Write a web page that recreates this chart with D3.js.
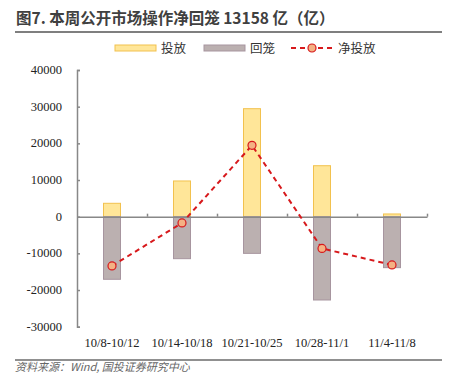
<!DOCTYPE html>
<html>
<head>
<meta charset="utf-8">
<script src="https://cdn.jsdelivr.net/npm/d3@7/dist/d3.min.js"></script>
<style>
  body { margin: 0; background: #fff; }
  svg { display: block; }
</style>
</head>
<body>
<div id="chart"></div>
<script>
// Data
var weeks = ["10/8-10/12", "10/14-10/18", "10/21-10/25", "10/28-11/1", "11/4-11/8"];
var touFang = [3650, 9740, 29450, 13900, 740];
var huiLong = [-17070, -11450, -10000, -22720, -13898];
var jingTouFang = [-13420, -1710, 19450, -8650, -13158];
var yTicks = [-30000, -20000, -10000, 0, 10000, 20000, 30000, 40000];

var width = 449;
var height = 384;
var plotLeft = 77, plotRight = 427;
var plotTop = 70, plotBottom = 326.7;

var svg = d3.select("#chart")
    .append("svg")
    .attr("width", width)
    .attr("height", height);

// Title and rules
svg.append("text")
    .attr("x", 16)
    .attr("y", 24)
    .attr("font-family", "Noto Sans CJK SC")
    .attr("font-weight", "bold")
    .attr("font-size", 15.5)
    .attr("fill", "#404040")
    .text("图7. 本周公开市场操作净回笼 13158 亿（亿）");

svg.append("line")
    .attr("x1", 15).attr("x2", 442)
    .attr("y1", 32).attr("y2", 32)
    .attr("stroke", "#555").attr("stroke-width", 1.5);

svg.append("line")
    .attr("x1", 15).attr("x2", 442)
    .attr("y1", 360).attr("y2", 360)
    .attr("stroke", "#222").attr("stroke-width", 1.2);

svg.append("text")
    .attr("x", 15)
    .attr("y", 371)
    .attr("font-family", "Noto Sans CJK SC")
    .attr("font-style", "italic")
    .attr("font-size", 11)
    .attr("fill", "#666")
    .text("资料来源：Wind, 国投证券研究中心");

// Scales
var xScale = d3.scaleBand()
    .domain(weeks)
    .range([plotLeft, plotRight]);

var yScale = d3.scaleLinear()
    .domain([-30000, 40000])
    .range([plotBottom, plotTop]);

var barW = 17;

// Bars
svg.selectAll("rect.tou")
    .data(weeks)
    .enter()
    .append("rect")
    .attr("class", "tou")
    .attr("x", function(d) { return xScale(d) + xScale.bandwidth() / 2 - barW / 2; })
    .attr("y", function(d, i) { return yScale(touFang[i]); })
    .attr("width", barW)
    .attr("height", function(d, i) { return yScale(0) - yScale(touFang[i]); })
    .attr("fill", "#FFE699")
    .attr("stroke", "#F2C14E")
    .attr("stroke-width", 1);

svg.selectAll("rect.hui")
    .data(weeks)
    .enter()
    .append("rect")
    .attr("class", "hui")
    .attr("x", function(d) { return xScale(d) + xScale.bandwidth() / 2 - barW / 2; })
    .attr("y", yScale(0))
    .attr("width", barW)
    .attr("height", function(d, i) { return yScale(huiLong[i]) - yScale(0); })
    .attr("fill", "#BBB0B0")
    .attr("stroke", "#A7959F")
    .attr("stroke-width", 1);

// Y axis
var yAxis = d3.axisRight(yScale)
    .tickValues(yTicks)
    .tickSize(3)
    .tickFormat("");

var yG = svg.append("g")
    .attr("transform", "translate(" + plotLeft + ",0)")
    .call(yAxis);
yG.selectAll("line, path").attr("stroke", "#888").attr("stroke-width", 1.5);

svg.selectAll("text.ylab")
    .data(yTicks)
    .enter()
    .append("text")
    .attr("class", "ylab")
    .attr("x", 62)
    .attr("y", function(d) { return yScale(d) + 4; })
    .attr("text-anchor", "end")
    .attr("font-family", "Liberation Serif")
    .attr("font-size", 12.5)
    .attr("fill", "#222")
    .text(function(d) { return d; });

// X axis at zero
var xAxis = d3.axisTop(d3.scaleLinear().domain([0, 5]).range([plotLeft, plotRight]))
    .tickValues([1, 2, 3, 4, 5])
    .tickSize(3)
    .tickSizeOuter(0)
    .tickFormat("");

var xG = svg.append("g")
    .attr("transform", "translate(0," + yScale(0) + ")")
    .call(xAxis);
xG.selectAll("line, path").attr("stroke", "#888").attr("stroke-width", 1.5);

svg.selectAll("text.xlab")
    .data(weeks)
    .enter()
    .append("text")
    .attr("class", "xlab")
    .attr("x", function(d) { return xScale(d) + xScale.bandwidth() / 2; })
    .attr("y", 347)
    .attr("text-anchor", "middle")
    .attr("font-family", "Liberation Serif")
    .attr("font-size", 12.5)
    .attr("fill", "#222")
    .text(function(d) { return d; });

// Net line
var line = d3.line()
    .x(function(d, i) { return xScale(weeks[i]) + xScale.bandwidth() / 2; })
    .y(function(d) { return yScale(d); });

svg.append("path")
    .datum(jingTouFang)
    .attr("d", line)
    .attr("fill", "none")
    .attr("stroke", "#D7191C")
    .attr("stroke-width", 2)
    .attr("stroke-dasharray", "5,4");

svg.selectAll("circle.net")
    .data(jingTouFang)
    .enter()
    .append("circle")
    .attr("class", "net")
    .attr("cx", function(d, i) { return xScale(weeks[i]) + xScale.bandwidth() / 2; })
    .attr("cy", function(d) { return yScale(d); })
    .attr("r", 4)
    .attr("fill", "#F4B183")
    .attr("stroke", "#D7191C")
    .attr("stroke-width", 1.2);

// Legend
var lg = svg.append("g");
lg.append("rect")
    .attr("x", 115).attr("y", 45).attr("width", 41).attr("height", 6)
    .attr("fill", "#FFE699").attr("stroke", "#F2C14E");
lg.append("text")
    .attr("x", 161).attr("y", 53)
    .attr("font-family", "Noto Sans CJK SC").attr("font-size", 12.5).attr("fill", "#333")
    .text("投放");
lg.append("rect")
    .attr("x", 204).attr("y", 45).attr("width", 41).attr("height", 6)
    .attr("fill", "#BBB0B0").attr("stroke", "#A7959F");
lg.append("text")
    .attr("x", 250).attr("y", 53)
    .attr("font-family", "Noto Sans CJK SC").attr("font-size", 12.5).attr("fill", "#333")
    .text("回笼");
lg.append("line")
    .attr("x1", 291).attr("x2", 333).attr("y1", 48).attr("y2", 48)
    .attr("stroke", "#D7191C").attr("stroke-width", 2).attr("stroke-dasharray", "5,4");
lg.append("circle")
    .attr("cx", 312).attr("cy", 48).attr("r", 4)
    .attr("fill", "#F4B183").attr("stroke", "#D7191C").attr("stroke-width", 1.2);
lg.append("text")
    .attr("x", 338).attr("y", 53)
    .attr("font-family", "Noto Sans CJK SC").attr("font-size", 12.5).attr("fill", "#333")
    .text("净投放");
</script>
</body>
</html>
